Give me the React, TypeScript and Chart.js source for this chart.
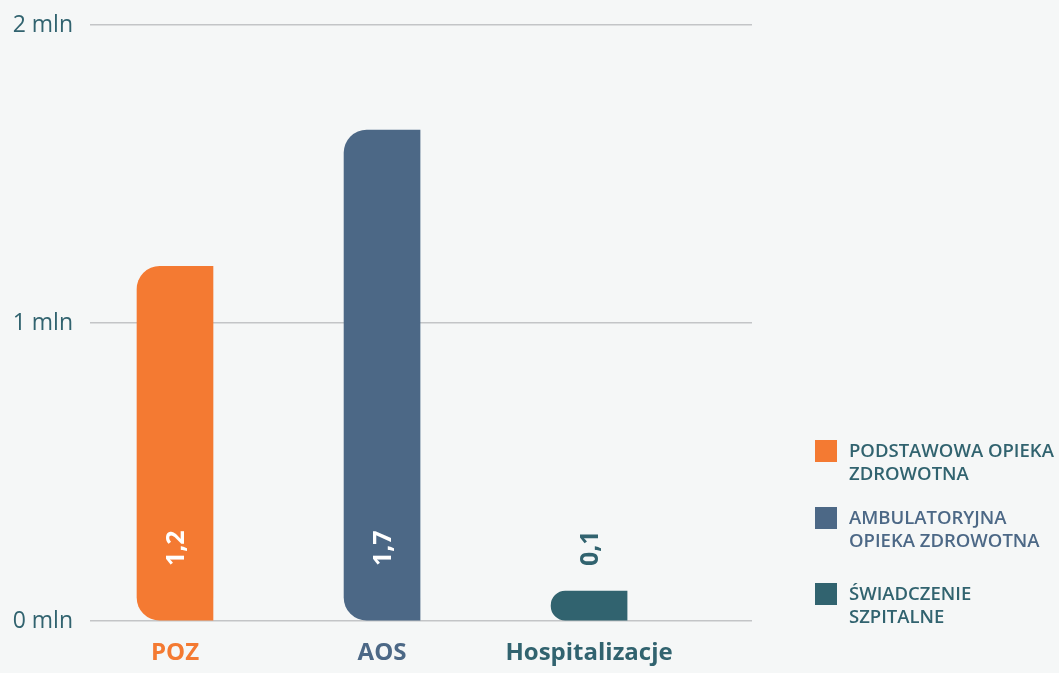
import React, { useEffect, useRef } from "react";
import { Chart, registerables } from "chart.js";

Chart.register(...registerables);

const categories = ["POZ", "AOS", "Hospitalizacje"];
const values = [1.19, 1.647, 0.1];
const valueLabels = ["1,2", "1,7", "0,1"];
const yTicks = [0, 1, 2];
const legendLines = [
  ["PODSTAWOWA OPIEKA", "ZDROWOTNA"],
  ["AMBULATORYJNA", "OPIEKA ZDROWOTNA"],
  ["ŚWIADCZENIE", "SZPITALNE"],
];

const ORANGE = "#f47a32";
const SLATE = "#4c6886";
const TEAL = "#31636f";
const barColors = [ORANGE, SLATE, TEAL];
const labelColors = ["#ffffff", "#ffffff", TEAL];
const legendTextColors = [TEAL, SLATE, TEAL];
const BG = "#f5f7f7";
const FONT = "'Open Sans', 'Noto Sans', sans-serif";

const valueLabelPlugin = {
  id: "valueLabels",
  afterDatasetsDraw(chart: any) {
    const meta = chart.getDatasetMeta(0);
    const ctx = chart.ctx;
    meta.data.forEach((el: any, i: number) => {
      ctx.save();
      ctx.translate(el.x, el.base - 72);
      ctx.rotate(-Math.PI / 2);
      ctx.font = `bold 25px ${FONT}`;
      ctx.fillStyle = labelColors[i];
      ctx.textAlign = "center";
      ctx.textBaseline = "alphabetic";
      ctx.fillText(valueLabels[i], 0, 9);
      ctx.restore();
    });
  },
};

export default function App() {
  const canvasRef = useRef<HTMLCanvasElement | null>(null);

  useEffect(() => {
    document.body.style.margin = "0";
    document.body.style.background = BG;
    const canvas = canvasRef.current!;
    const chart = new Chart(canvas, {
      type: "bar",
      data: {
        datasets: [
          {
            data: values.map((v, i) => ({ x: i, y: v })),
            backgroundColor: barColors,
            barThickness: 76,
            borderSkipped: false,
            borderRadius: { topLeft: 23, bottomLeft: 23, topRight: 0, bottomRight: 0 },
          },
        ],
      },
      options: {
        animation: false,
        responsive: false,
        maintainAspectRatio: false,
        layout: { padding: { top: 25, right: 307, bottom: 0, left: 0 } },
        plugins: { legend: { display: false }, tooltip: { enabled: false } },
        scales: {
          x: {
            type: "linear",
            offset: false,
            min: -0.4106,
            max: 2.787,
            afterBuildTicks: (scale: any) => {
              scale.ticks = categories.map((_, i) => ({ value: i }));
            },
            afterFit: (scale: any) => {
              scale.height = 52;
              scale.paddingLeft = 0;
              scale.paddingRight = 0;
            },
            grid: { display: false, drawTicks: false, offset: false },
            border: { display: false },
            ticks: {
              padding: 18,
              autoSkip: false,
              maxRotation: 0,
              font: { family: FONT, size: 24, weight: "bold" },
              color: (c: any) => barColors[c.index] || TEAL,
              callback: (v: any) => categories[v] ?? "",
            },
          },
          y: {
            min: 0,
            max: 2,
            afterBuildTicks: (scale: any) => {
              scale.ticks = yTicks.map((v) => ({ value: v }));
            },
            afterFit: (scale: any) => {
              scale.width = 90;
              scale.paddingTop = 0;
              scale.paddingBottom = 0;
            },
            grid: { color: "#c3c5c7", lineWidth: 1.5, drawTicks: false },
            border: { display: false },
            ticks: {
              padding: 17,
              font: { family: FONT, size: 23 },
              color: TEAL,
              callback: (v: any) => `${v} mln`,
            },
          },
        },
      },
      plugins: [valueLabelPlugin],
    } as any);
    return () => chart.destroy();
  }, []);

  return (
    <div style={{ position: "relative", width: 1059, height: 673, background: BG, fontFamily: FONT }}>
      <canvas ref={canvasRef} width={1059} height={673} style={{ display: "block" }} />
      {legendLines.map((lines, i) => (
        <div
          key={i}
          style={{ position: "absolute", left: 815, top: [440, 507, 583][i], display: "flex" }}
        >
          <div style={{ width: 22, height: 22, background: barColors[i], flex: "none" }} />
          <div
            style={{
              marginLeft: 12,
              marginTop: -2,
              color: legendTextColors[i],
              fontSize: 18.5,
              fontWeight: 600,
              lineHeight: "23px",
              whiteSpace: "nowrap",
            }}
          >
            {lines.map((l, j) => (
              <div key={j}>{l}</div>
            ))}
          </div>
        </div>
      ))}
    </div>
  );
}
